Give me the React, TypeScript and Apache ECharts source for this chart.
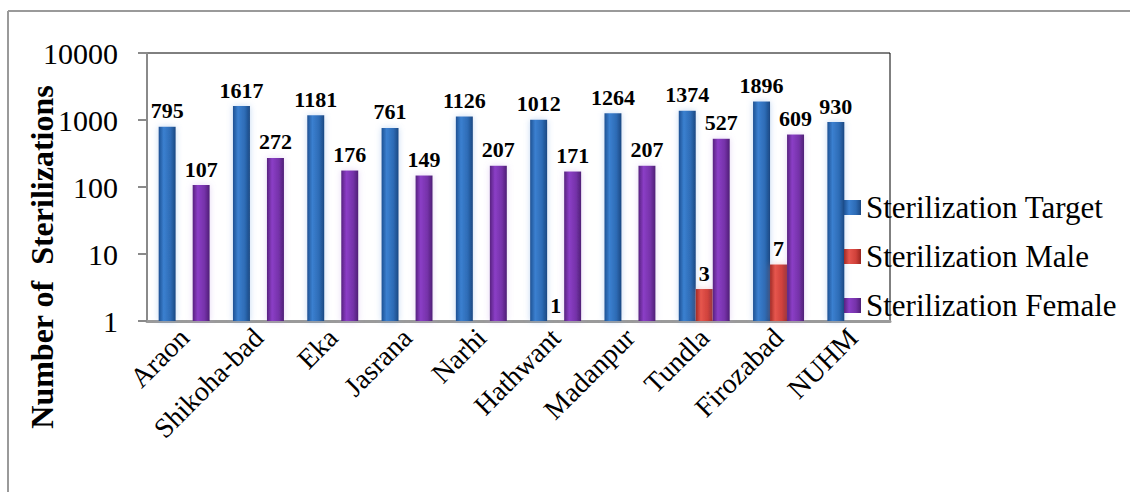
import React, { useEffect, useRef } from "react";
import * as echarts from "echarts";

const blocks = ["Araon", "Shikoha-bad", "Eka", "Jasrana", "Narhi", "Hathwant", "Madanpur", "Tundla", "Firozabad", "NUHM"];
const targetValues = [795, 1617, 1181, 761, 1126, 1012, 1264, 1374, 1896, 930];
const maleValues: (number | null)[] = [null, null, null, null, null, 1, null, 3, 7, null];
const femaleValues: (number | null)[] = [107, 272, 176, 149, 207, 171, 207, 527, 609, null];
const seriesNames = ["Sterilization Target", "Sterilization Male", "Sterilization Female"];

const FONT = "'Liberation Serif', 'Times New Roman', serif";

function barGradient(edge: string, light: string, mid: string, dark: string) {
  return new echarts.graphic.LinearGradient(0, 0, 1, 0, [
    { offset: 0, color: edge },
    { offset: 0.3, color: light },
    { offset: 0.7, color: mid },
    { offset: 1, color: dark },
  ]);
}

export default function App() {
  const ref = useRef<HTMLDivElement>(null);

  useEffect(() => {
    if (!ref.current) return;
    const chart = echarts.init(ref.current, undefined, { renderer: "svg" });

    const label = {
      show: true,
      position: "top" as const,
      distance: 5,
      fontFamily: FONT,
      fontSize: 22,
      fontWeight: "bold" as const,
      color: "#000",
    };

    const mkSeries = (name: string, data: (number | null)[], color: any, glow: string) => ({
      name,
      type: "bar" as const,
      data,
      barWidth: 17,
      barGap: "0%",
      itemStyle: { color, shadowColor: glow, shadowBlur: 6 },
      label,
    });

    chart.setOption({
      animation: false,
      backgroundColor: "#fff",
      grid: {
        left: 147,
        right: 240,
        top: 53,
        bottom: 171,
        show: true,
        borderColor: "#000",
        borderWidth: 1,
      },
      legend: {
        orient: "vertical",
        left: 839,
        top: 187,
        itemWidth: 17,
        itemHeight: 15,
        itemGap: 18,
        icon: "rect",
        data: seriesNames,
        textStyle: { fontFamily: FONT, fontSize: 31, lineHeight: 31, color: "#000" },
      },
      xAxis: {
        type: "category",
        data: blocks,
        axisTick: { show: false },
        axisLine: { lineStyle: { color: "#9a9a9a", width: 3 } },
        axisLabel: {
          interval: 0,
          rotate: 45,
          margin: 12,
          fontFamily: FONT,
          fontSize: 28,
          color: "#000",
        },
      },
      yAxis: {
        type: "log",
        logBase: 10,
        min: 1,
        max: 10000,
        splitLine: { show: false },
        axisLine: { show: true, lineStyle: { color: "#8a8a8a", width: 2 } },
        axisTick: { show: true, length: 9, lineStyle: { color: "#8a8a8a", width: 2 } },
        axisLabel: {
          margin: 29,
          fontFamily: FONT,
          fontSize: 30,
          color: "#000",
          formatter: (v: number) => String(Math.round(v)),
        },
      },
      graphic: [
        {
          type: "line",
          shape: { x1: 8, y1: 11, x2: 1130, y2: 11 },
          style: { stroke: "#9a9a9a", lineWidth: 2 },
        },
        {
          type: "line",
          shape: { x1: 8, y1: 11, x2: 8, y2: 492 },
          style: { stroke: "#9a9a9a", lineWidth: 2 },
        },
        {
          type: "text",
          x: 42,
          y: 257,
          rotation: Math.PI / 2,
          style: {
            text: "Number of  Sterilizations",
            fontFamily: FONT,
            fontSize: 32,
            fontWeight: "bold",
            fill: "#000",
            align: "center",
            verticalAlign: "middle",
          },
        },
      ],
      series: [
        mkSeries(
          seriesNames[0],
          targetValues,
          barGradient("#1d5193", "#3b80d0", "#2d6bb5", "#1b4882"),
          "rgba(120,170,230,0.45)"
        ),
        mkSeries(
          seriesNames[1],
          maleValues,
          barGradient("#a12a25", "#e6564e", "#d0413a", "#982520"),
          "rgba(230,140,140,0.4)"
        ),
        mkSeries(
          seriesNames[2],
          femaleValues,
          barGradient("#57217f", "#8b3ec6", "#7532a9", "#4f1f76"),
          "rgba(190,150,230,0.4)"
        ),
      ],
    });

    return () => chart.dispose();
  }, []);

  return (
    <div
      ref={ref}
      style={{ position: "fixed", left: 0, top: 0, width: 1130, height: 492 }}
    />
  );
}
